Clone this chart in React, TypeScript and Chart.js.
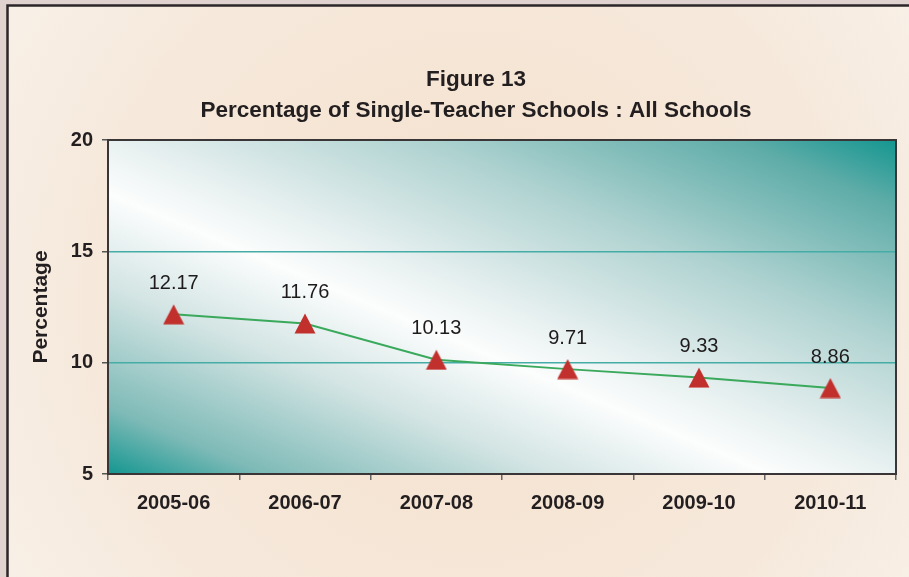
import React, { useEffect, useRef } from "react";
import { Chart, registerables } from "chart.js";

Chart.register(...registerables);

const categories = ["2005-06", "2006-07", "2007-08", "2008-09", "2009-10", "2010-11"];
const percentages = [12.17, 11.76, 10.13, 9.71, 9.33, 8.86];
const titleLines = ["Figure 13", "Percentage of Single-Teacher Schools : All Schools"];
const yAxisTitle = "Percentage";
const yMin = 5;
const yMax = 20;
const yStep = 5;

const FONT = "'Liberation Sans', Arial, sans-serif";
const W = 909;
const H = 577;

function makeTriangle(): HTMLCanvasElement {
  const c = document.createElement("canvas");
  c.width = 22;
  c.height = 21;
  const ctx = c.getContext("2d")!;
  ctx.fillStyle = "#c1302c";
  ctx.beginPath();
  ctx.moveTo(11, 0.5);
  ctx.lineTo(21.5, 20.5);
  ctx.lineTo(0.5, 20.5);
  ctx.closePath();
  ctx.fill();
  return c;
}

const backgroundPlugin = {
  id: "bgPanel",
  beforeDraw(chart: any) {
    const ctx = chart.ctx as CanvasRenderingContext2D;
    const ca = chart.chartArea;
    ctx.save();
    ctx.fillStyle = "#e0d3cf";
    ctx.fillRect(0, 0, W, H);
    const g = ctx.createRadialGradient(470, 300, 30, 470, 300, 620);
    g.addColorStop(0, "#f5e1cd");
    g.addColorStop(0.6, "#f6e9dc");
    g.addColorStop(1, "#f9f3ec");
    ctx.fillStyle = g;
    ctx.fillRect(8, 6, W - 8, H - 6);
    ctx.strokeStyle = "#2b2627";
    ctx.lineWidth = 2.5;
    ctx.beginPath();
    ctx.moveTo(7.5, H + 5);
    ctx.lineTo(7.5, 5.5);
    ctx.lineTo(W + 5, 5.5);
    ctx.stroke();
    const cx = (ca.left + ca.right) / 2;
    const cy = (ca.top + ca.bottom) / 2;
    const w = ca.right - ca.left;
    const h = ca.bottom - ca.top;
    const len = Math.hypot(w, h);
    const ux = -h / len;
    const uy = w / len;
    const proj = Math.abs((ca.left - cx) * ux + (ca.bottom - cy) * uy);
    const lg = ctx.createLinearGradient(cx - proj * ux, cy - proj * uy, cx + proj * ux, cy + proj * uy);
    lg.addColorStop(0, "#149690");
    lg.addColorStop(0.1, "#5eaca8");
    lg.addColorStop(0.3, "#aed2d0");
    lg.addColorStop(0.5, "#e9f1f1");
    lg.addColorStop(0.58, "#fcfdfd");
    lg.addColorStop(0.72, "#d2e4e3");
    lg.addColorStop(0.9, "#7ebab7");
    lg.addColorStop(1, "#149690");
    ctx.fillStyle = lg;
    ctx.fillRect(ca.left, ca.top, w, h);
    ctx.restore();
  },
  beforeDatasetsDraw(chart: any) {
    const ctx = chart.ctx as CanvasRenderingContext2D;
    const ca = chart.chartArea;
    ctx.save();
    ctx.strokeStyle = "#3a3637";
    ctx.lineWidth = 2;
    ctx.strokeRect(ca.left, ca.top, ca.right - ca.left, ca.bottom - ca.top);
    ctx.restore();
  },
  afterDatasetsDraw(chart: any) {
    const ctx = chart.ctx as CanvasRenderingContext2D;
    const meta = chart.getDatasetMeta(0);
    ctx.save();
    ctx.fillStyle = "#1e1b1c";
    ctx.font = `20px ${FONT}`;
    ctx.textAlign = "center";
    ctx.textBaseline = "middle";
    meta.data.forEach((pt: any, i: number) => {
      ctx.fillText(percentages[i].toFixed(2), pt.x, pt.y - 31);
    });
    ctx.font = `bold 22.5px ${FONT}`;
    ctx.fillStyle = "#231f20";
    ctx.fillText(titleLines[0], 476, 80);
    ctx.fillText(titleLines[1], 476, 111);
    ctx.restore();
  },
};

export default function App() {
  const ref = useRef<HTMLCanvasElement | null>(null);
  useEffect(() => {
    if (!ref.current) return;
    const tri = makeTriangle();
    const chart = new Chart(ref.current, {
      type: "line",
      data: {
        labels: categories,
        datasets: [
          {
            data: percentages,
            borderColor: "#3aa95c",
            borderWidth: 2,
            pointStyle: tri as any,
            pointRadius: 11,
            pointHoverRadius: 11,
            tension: 0,
          },
        ],
      },
      options: {
        responsive: false,
        animation: false,
        devicePixelRatio: 1,
        layout: { padding: { top: 140, right: 13, left: 0, bottom: 0 } },
        plugins: {
          legend: { display: false },
          title: { display: false },
          tooltip: { enabled: false },
        },
        scales: {
          x: {
            offset: true,
            afterFit: (s: any) => {
              s.height = 103;
            },
            border: { display: false },
            grid: {
              offset: true,
              drawOnChartArea: false,
              drawTicks: true,
              tickLength: 6,
              tickColor: "#666666",
              lineWidth: 1.5,
            },
            ticks: {
              padding: 11,
              color: "#231f20",
              font: { family: FONT, size: 20, weight: "bold" },
              maxRotation: 0,
            },
          },
          y: {
            min: yMin,
            max: yMax,
            afterFit: (s: any) => {
              s.width = 108;
            },
            border: { display: false },
            grid: {
              color: (c: any) =>
                c.tick && (c.tick.value === yMin || c.tick.value === yMax) ? "rgba(0,0,0,0)" : "#45aca6",
              lineWidth: 1.5,
              drawTicks: true,
              tickLength: 6,
              tickColor: "#555555",
            },
            ticks: {
              stepSize: yStep,
              padding: 9,
              color: "#231f20",
              font: { family: FONT, size: 20, weight: "bold" },
            },
            title: {
              display: true,
              text: yAxisTitle,
              color: "#231f20",
              font: { family: FONT, size: 21, weight: "bold" },
              padding: { top: 29, bottom: 0 },
            },
          },
        },
      },
      plugins: [backgroundPlugin],
    });
    return () => chart.destroy();
  }, []);
  return (
    <div style={{ position: "absolute", left: 0, top: 0, width: W, height: H }}>
      <canvas ref={ref} width={W} height={H} style={{ display: "block" }} />
    </div>
  );
}
